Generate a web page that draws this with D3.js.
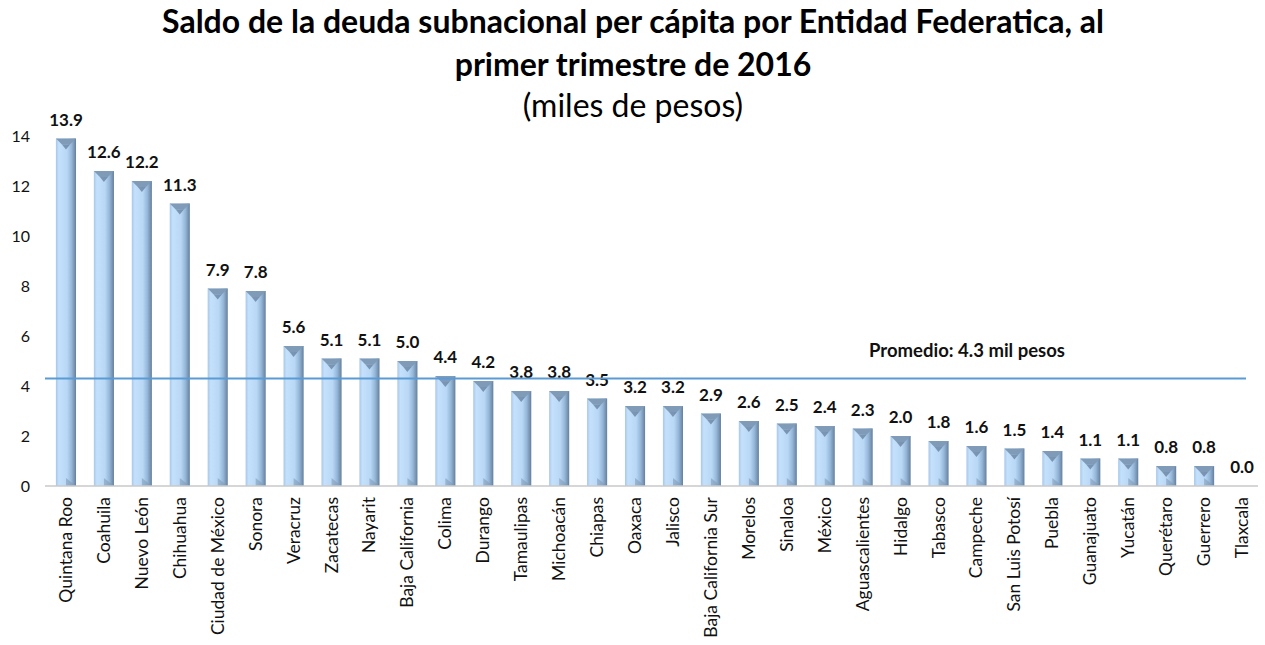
<!DOCTYPE html>
<head>
  <meta charset="utf-8">
  <style>
    body { margin: 0; background: #fff; font-family: Lato, "Open Sans", sans-serif; }
    .ttl { font-weight: bold; font-size: 32px; fill: #000; }
    .tick-y { font-size: 16px; fill: #111; }
    .val { font-weight: bold; font-size: 17px; fill: #111; }
    .prom { font-weight: bold; font-size: 18.5px; fill: #111; }
    .cat { font-size: 17.5px; fill: #111; }
  </style>
</head>
<body>
<script src="https://cdnjs.cloudflare.com/ajax/libs/d3/7.8.5/d3.min.js"></script>
<script>

var estados = ["Quintana Roo", "Coahuila", "Nuevo León", "Chihuahua", "Ciudad de México", "Sonora",
  "Veracruz", "Zacatecas", "Nayarit", "Baja California", "Colima", "Durango", "Tamaulipas",
  "Michoacán", "Chiapas", "Oaxaca", "Jalisco", "Baja California Sur", "Morelos", "Sinaloa",
  "México", "Aguascalientes", "Hidalgo", "Tabasco", "Campeche", "San Luis Potosí", "Puebla",
  "Guanajuato", "Yucatán", "Querétaro", "Guerrero", "Tlaxcala"];
var deuda = [13.9, 12.6, 12.2, 11.3, 7.9, 7.8, 5.6, 5.1, 5.1, 5.0, 4.4, 4.2, 3.8, 3.8, 3.5, 3.2,
  3.2, 2.9, 2.6, 2.5, 2.4, 2.3, 2.0, 1.8, 1.6, 1.5, 1.4, 1.1, 1.1, 0.8, 0.8, 0.0];
var yTicks = [0, 2, 4, 6, 8, 10, 12, 14];
var promedio = 4.3;

var W = 1265, H = 645;
var svg = d3.select("body").append("svg")
    .attr("width", W)
    .attr("height", H);

// titles
svg.append("text").attr("class", "ttl").attr("x", 633).attr("y", 33)
    .attr("text-anchor", "middle")
    .text("Saldo de la deuda subnacional per cápita por Entidad Federatica, al");
svg.append("text").attr("class", "ttl").attr("x", 633).attr("y", 76)
    .attr("text-anchor", "middle")
    .text("primer trimestre de 2016");
svg.append("text").attr("class", "ttl").attr("x", 633).attr("y", 117)
    .attr("text-anchor", "middle").style("font-weight", "normal")
    .text("(miles de pesos)");

var x = d3.scaleBand()
    .domain(estados)
    .range([47, 1261])
    .paddingInner(0.47)
    .paddingOuter(0.235);

var y = d3.scaleLinear()
    .domain([0, 14])
    .range([486, 136]);

var defs = svg.append("defs");
var grad = defs.append("linearGradient")
    .attr("id", "barGrad")
    .attr("x1", "0%").attr("y1", "0%").attr("x2", "100%").attr("y2", "0%");
[["0%", "#a8c8ea"], ["15%", "#c4e0fb"], ["55%", "#b9d8f6"], ["78%", "#95b6d8"], ["100%", "#647f9c"]]
  .forEach(function(s) { grad.append("stop").attr("offset", s[0]).attr("stop-color", s[1]); });

// y axis labels
svg.selectAll(".tick-y")
    .data(yTicks)
    .enter().append("text")
    .attr("class", "tick-y")
    .attr("x", 30)
    .attr("y", function(d) { return y(d); })
    .attr("dy", "0.35em")
    .attr("text-anchor", "end")
    .text(function(d) { return d; });

var data = estados.map(function(e, i) { return { estado: e, v: deuda[i] }; });

var bars = svg.selectAll(".barra")
    .data(data)
    .enter().append("g")
    .attr("class", "barra");

bars.append("rect")
    .attr("x", function(d) { return x(d.estado); })
    .attr("y", function(d) { return y(d.v); })
    .attr("width", x.bandwidth())
    .attr("height", function(d) { return y(0) - y(d.v); })
    .attr("fill", "url(#barGrad)");

// bevel on top
bars.filter(function(d) { return d.v > 0.3; })
  .append("path")
    .attr("d", function(d) {
      var x0 = x(d.estado), w = x.bandwidth(), t = y(d.v), b = 6;
      return "M" + x0 + "," + t + "L" + (x0 + w) + "," + t +
             "L" + (x0 + w - b) + "," + (t + b) + "L" + (x0 + b) + "," + (t + b) + "Z";
    })
    .attr("fill", "#7f9bb8");
bars.filter(function(d) { return d.v > 0.3; })
  .append("path")
    .attr("d", function(d) {
      var x0 = x(d.estado), w = x.bandwidth(), t = y(d.v), b = 6;
      return "M" + (x0 + b) + "," + (t + b) + "L" + (x0 + w / 2) + "," + (t + b + 5) +
             "L" + (x0 + w - b) + "," + (t + b) + "Z";
    })
    .attr("fill", "#5e7896").attr("opacity", 0.7);
// bevel at bottom right
bars.filter(function(d) { return d.v > 0.3; })
  .append("path")
    .attr("d", function(d) {
      var x0 = x(d.estado), w = x.bandwidth(), b0 = y(0);
      return "M" + (x0 + w * 0.5) + "," + (b0 - 8) + "L" + (x0 + w) + "," + b0 +
             "L" + (x0 + w * 0.5) + "," + b0 + "Z";
    })
    .attr("fill", "#7f9bb8").attr("opacity", 0.6);

// axis baseline
svg.append("line")
    .attr("x1", 45).attr("x2", 1258)
    .attr("y1", y(0)).attr("y2", y(0))
    .attr("stroke", "#c8c8c8").attr("stroke-width", 1.5);

// value labels
bars.append("text")
    .attr("class", "val")
    .attr("x", function(d) { return x(d.estado) + x.bandwidth() / 2; })
    .attr("y", function(d) { return y(d.v) - 13; })
    .attr("text-anchor", "middle")
    .text(function(d) { return d3.format(".1f")(d.v); });

// category labels
bars.append("text")
    .attr("class", "cat")
    .attr("transform", function(d) {
      return "translate(" + (x(d.estado) + x.bandwidth() / 2 + 6) + "," + 497 + ") rotate(-90)";
    })
    .attr("text-anchor", "end")
    .text(function(d) { return d.estado; });

// average line
svg.append("line")
    .attr("x1", 45).attr("x2", 1246)
    .attr("y1", y(promedio)).attr("y2", y(promedio))
    .attr("stroke", "#5b9bd5").attr("stroke-width", 2);

svg.append("text")
    .attr("class", "prom")
    .attr("x", 967).attr("y", y(promedio) - 22)
    .attr("text-anchor", "middle")
    .text("Promedio: " + promedio + " mil pesos");

</script>
</body>
